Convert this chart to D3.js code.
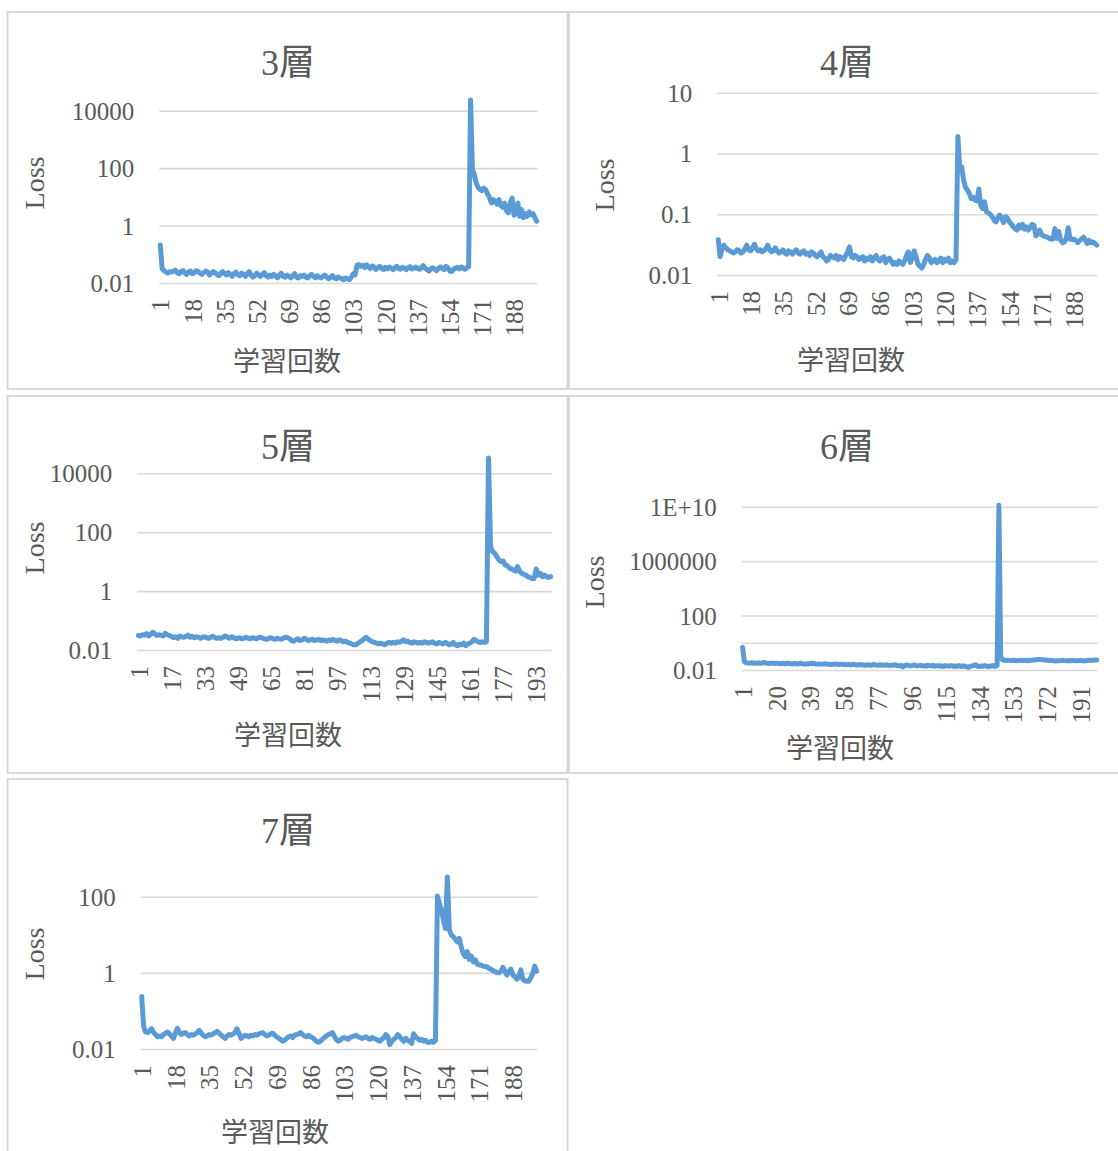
<!DOCTYPE html>
<html>
<head>
<meta charset="utf-8">
<script src="https://cdn.jsdelivr.net/npm/d3@7"></script>
<style>
  html, body { margin: 0; padding: 0; background: #fff; }
  svg { display: block; }
  text { font-family: "Liberation Serif", "Noto Sans CJK JP", serif; fill: #595959; }
</style>
</head>
<body>
<svg id="chart" width="1118" height="1151"></svg>
<script>
// ---- data -------------------------------------------------------------
const steps = d3.range(1, 201);            // 学習回数 1..200
const titles = ["3層", "4層", "5層", "6層", "7層"];
const xTitle = "学習回数";
const yTitle = "Loss";

const loss3 = [0.21, 0.032,
  0.027, 0.024, 0.022, 0.025, 0.024, 0.026, 0.028, 0.023, 0.021, 0.025, 0.027, 0.022, 0.020, 0.024, 0.026, 0.021, 0.023, 0.027,
  0.025, 0.022, 0.020, 0.023, 0.026, 0.024, 0.019, 0.022, 0.025, 0.023, 0.020, 0.018, 0.022, 0.025, 0.021, 0.019, 0.023, 0.020, 0.017, 0.021,
  0.024, 0.019, 0.018, 0.022, 0.020, 0.017, 0.021, 0.025, 0.019, 0.016, 0.018, 0.022, 0.019, 0.017, 0.020, 0.023, 0.018, 0.016, 0.019, 0.017,
  0.020, 0.018, 0.015, 0.019, 0.022, 0.017, 0.016, 0.019, 0.017, 0.015, 0.018, 0.021, 0.016, 0.015, 0.018, 0.017, 0.019, 0.016, 0.015, 0.018,
  0.020, 0.017, 0.015, 0.018, 0.016, 0.015, 0.017, 0.019, 0.016, 0.014, 0.016, 0.018, 0.015, 0.014, 0.016, 0.015, 0.014, 0.013, 0.015, 0.014,
  0.013, 0.016, 0.021, 0.019, 0.042, 0.044, 0.038, 0.041, 0.035, 0.043, 0.037, 0.032, 0.039, 0.036, 0.030, 0.034, 0.038, 0.033, 0.029, 0.035,
  0.031, 0.036, 0.033, 0.029, 0.034, 0.038, 0.032, 0.030, 0.035, 0.033, 0.029, 0.034, 0.037, 0.031, 0.033, 0.036, 0.032, 0.030, 0.034, 0.040,
  0.033, 0.029, 0.026, 0.031, 0.034, 0.030, 0.027, 0.032, 0.036, 0.033, 0.029, 0.038, 0.034, 0.026, 0.025, 0.030, 0.033, 0.035, 0.031, 0.036,
  0.033, 0.030, 0.034, 0.037,
  23800,
  89, 59, 30, 21.6, 17.8, 16.4, 20, 17.8, 12.6, 9.7, 6.1, 8, 7, 5.6, 8, 5.1, 4.3, 6.1, 3.3, 2.75,
  6, 9.1, 2.3, 2.6, 6, 2.1, 3.6, 1.9, 2.6, 2.1, 3.0, 2.4, 2.6, 1.9, 1.4];

const loss4 = [0.038, 0.020,
  0.027, 0.031, 0.028, 0.026, 0.025, 0.024, 0.023, 0.024, 0.026, 0.025, 0.023, 0.024, 0.027, 0.031, 0.026, 0.025, 0.028, 0.032,
  0.027, 0.025, 0.026, 0.024, 0.025, 0.027, 0.031, 0.026, 0.024, 0.025, 0.028, 0.025, 0.023, 0.024, 0.026, 0.023, 0.022, 0.025, 0.024, 0.022,
  0.024, 0.026, 0.023, 0.022, 0.024, 0.025, 0.022, 0.023, 0.021, 0.024, 0.023, 0.021, 0.020, 0.022, 0.024, 0.020, 0.019, 0.017, 0.018, 0.021,
  0.020, 0.019, 0.021, 0.018, 0.020, 0.019, 0.018, 0.021, 0.024, 0.029, 0.020, 0.019, 0.021, 0.020, 0.018, 0.019, 0.020, 0.017, 0.019, 0.018,
  0.020, 0.017, 0.019, 0.021, 0.018, 0.017, 0.019, 0.020, 0.016, 0.018, 0.019, 0.017, 0.015, 0.016, 0.015, 0.017, 0.016, 0.015, 0.017, 0.021,
  0.024, 0.016, 0.019, 0.025, 0.020, 0.015, 0.014, 0.013, 0.015, 0.018, 0.021, 0.019, 0.016, 0.017, 0.018, 0.016, 0.017, 0.019, 0.016, 0.018,
  0.017, 0.019, 0.016, 0.017, 0.016, 0.018,
  1.9,
  0.53, 0.6, 0.365, 0.277, 0.25, 0.22, 0.18, 0.19, 0.17, 0.165, 0.26, 0.14, 0.125, 0.16, 0.11, 0.105, 0.1, 0.091, 0.08, 0.075,
  0.087, 0.097, 0.087, 0.073, 0.091, 0.087, 0.075, 0.07, 0.0625, 0.058, 0.055, 0.066, 0.06, 0.068, 0.057, 0.062, 0.055, 0.06, 0.068, 0.066,
  0.044, 0.047, 0.055, 0.046, 0.044, 0.043, 0.042, 0.04, 0.039, 0.039, 0.058, 0.04, 0.052, 0.038, 0.034, 0.035, 0.04, 0.06, 0.039, 0.038,
  0.039, 0.037, 0.034, 0.037, 0.039, 0.042, 0.038, 0.033, 0.037, 0.034, 0.035, 0.033, 0.031];

const loss5 = [
  0.031, 0.030, 0.033, 0.032, 0.036, 0.030, 0.034, 0.040, 0.035, 0.031, 0.033, 0.032, 0.030, 0.037, 0.033, 0.031, 0.029, 0.026, 0.028, 0.025,
  0.030, 0.028, 0.027, 0.029, 0.032, 0.027, 0.029, 0.026, 0.028, 0.027, 0.025, 0.027, 0.028, 0.026, 0.025, 0.027, 0.029, 0.026, 0.025, 0.026,
  0.025, 0.027, 0.030, 0.027, 0.025, 0.028, 0.026, 0.024, 0.025, 0.026, 0.024, 0.025, 0.027, 0.025, 0.024, 0.026, 0.025, 0.024, 0.026, 0.027,
  0.025, 0.024, 0.023, 0.025, 0.026, 0.024, 0.023, 0.025, 0.024, 0.023, 0.025, 0.027, 0.026, 0.024, 0.021, 0.020, 0.022, 0.024, 0.021, 0.022,
  0.025, 0.023, 0.021, 0.022, 0.023, 0.021, 0.022, 0.023, 0.021, 0.022, 0.021, 0.020, 0.022, 0.021, 0.023, 0.021, 0.020, 0.022, 0.021, 0.019,
  0.020, 0.018, 0.017, 0.016, 0.015, 0.015, 0.017, 0.019, 0.021, 0.024, 0.027, 0.023, 0.021, 0.019, 0.018, 0.017, 0.016, 0.017, 0.016, 0.015,
  0.017, 0.018, 0.017, 0.018, 0.017, 0.019, 0.018, 0.020, 0.022, 0.019, 0.020, 0.018, 0.017, 0.019, 0.018, 0.017, 0.018, 0.017, 0.019, 0.018,
  0.017, 0.018, 0.019, 0.017, 0.016, 0.018, 0.017, 0.016, 0.018, 0.017, 0.015, 0.016, 0.018, 0.015, 0.014, 0.016, 0.015, 0.017, 0.014, 0.016,
  0.017, 0.019, 0.023, 0.021, 0.019, 0.018, 0.019, 0.018, 0.019,
  33000,
  32, 21.8, 19.2, 14.8, 11.4, 10, 10.5, 7.7, 7.3, 6.2, 5.6, 5.2, 4.8, 6.8, 4.8, 4, 3.7, 3.5, 3.1, 2.9,
  2.7, 2.7, 5.6, 3.5, 4, 3.1, 3.5, 3.1, 2.9, 3.1];

const loss6 = [0.46, 0.040,
  0.034, 0.033, 0.032, 0.034, 0.033, 0.031, 0.032, 0.033, 0.031, 0.034, 0.036, 0.033, 0.031, 0.030, 0.032, 0.031, 0.030, 0.032,
  0.031, 0.029, 0.030, 0.031, 0.029, 0.031, 0.032, 0.029, 0.028, 0.030, 0.029, 0.028, 0.030, 0.031, 0.028, 0.027, 0.029, 0.028, 0.030, 0.031,
  0.030, 0.028, 0.027, 0.028, 0.026, 0.027, 0.029, 0.027, 0.026, 0.027, 0.025, 0.026, 0.028, 0.026, 0.025, 0.027, 0.026, 0.025, 0.024, 0.026,
  0.025, 0.024, 0.026, 0.025, 0.023, 0.024, 0.025, 0.023, 0.024, 0.022, 0.024, 0.023, 0.022, 0.024, 0.025, 0.023, 0.022, 0.024, 0.023, 0.022,
  0.023, 0.024, 0.022, 0.021, 0.023, 0.022, 0.024, 0.021, 0.020, 0.022, 0.017, 0.021, 0.023, 0.022, 0.020, 0.021, 0.023, 0.022, 0.020, 0.021,
  0.022, 0.020, 0.021, 0.019, 0.022, 0.021, 0.020, 0.022, 0.019, 0.020, 0.021, 0.019, 0.020, 0.018, 0.021, 0.020, 0.019, 0.021, 0.020, 0.018,
  0.020, 0.019, 0.021, 0.018, 0.020, 0.019, 0.017, 0.016, 0.019, 0.020, 0.022, 0.024, 0.019, 0.018, 0.020, 0.019, 0.021, 0.019, 0.018, 0.020,
  0.019, 0.021, 0.018, 0.022,
  1.3e10,
  0.095, 0.058, 0.052, 0.050, 0.053, 0.051, 0.049, 0.052, 0.050, 0.048, 0.051, 0.053, 0.049, 0.050, 0.052, 0.048, 0.050, 0.051, 0.053, 0.055,
  0.057, 0.058, 0.060, 0.058, 0.056, 0.054, 0.052, 0.050, 0.049, 0.051, 0.048, 0.046, 0.049, 0.047, 0.050, 0.052, 0.049, 0.047, 0.050, 0.048,
  0.049, 0.051, 0.048, 0.047, 0.049, 0.050, 0.048, 0.046, 0.049, 0.051, 0.052, 0.050, 0.053, 0.055, 0.054];

const loss7 = [0.24, 0.038,
  0.028, 0.027, 0.030, 0.034, 0.027, 0.024, 0.021, 0.022, 0.021, 0.024, 0.026, 0.028, 0.025, 0.022, 0.019, 0.026, 0.035, 0.027,
  0.024, 0.026, 0.027, 0.024, 0.022, 0.024, 0.023, 0.025, 0.027, 0.031, 0.026, 0.023, 0.021, 0.022, 0.024, 0.023, 0.025, 0.027, 0.029, 0.026,
  0.023, 0.021, 0.019, 0.022, 0.024, 0.023, 0.025, 0.027, 0.034, 0.026, 0.019, 0.021, 0.023, 0.022, 0.021, 0.023, 0.022, 0.024, 0.023, 0.025,
  0.026, 0.027, 0.024, 0.022, 0.023, 0.025, 0.026, 0.023, 0.021, 0.019, 0.018, 0.016, 0.017, 0.019, 0.021, 0.022, 0.020, 0.023, 0.024, 0.025,
  0.027, 0.024, 0.022, 0.021, 0.023, 0.021, 0.020, 0.018, 0.016, 0.015, 0.016, 0.018, 0.020, 0.022, 0.024, 0.025, 0.027, 0.022, 0.018, 0.016,
  0.017, 0.019, 0.020, 0.019, 0.018, 0.020, 0.021, 0.022, 0.023, 0.021, 0.020, 0.019, 0.020, 0.021, 0.019, 0.018, 0.020, 0.019, 0.018, 0.017,
  0.016, 0.018, 0.020, 0.024, 0.021, 0.013, 0.016, 0.018, 0.020, 0.024, 0.021, 0.018, 0.016, 0.019, 0.017, 0.016, 0.014, 0.025, 0.021, 0.019,
  0.017, 0.018, 0.016, 0.017, 0.015, 0.015, 0.016, 0.015, 0.017,
  104,
  67, 44, 24, 14.7, 330, 13.3, 9.8, 8.9, 7.6, 6.5, 8, 4.7, 3.25, 2.66, 3.6, 2.26, 2.8, 1.95, 2.2, 1.7,
  1.6, 1.6, 1.5, 1.45, 1.45, 1.3, 1.25, 1.14, 1.1, 1.0, 1.0, 1.1, 1.4, 1.1, 0.87, 1.1, 1.25, 0.87, 0.8, 0.68,
  0.8, 1.2, 0.68, 0.62, 0.6, 0.6, 0.74, 0.95, 1.5, 1.1];

// value-axis gridlines and the ones that carry a label
const grid3 = [0.01, 1, 100, 10000];
const grid4 = [0.01, 0.1, 1, 10];
const grid5 = [0.01, 1, 100, 10000];
const grid6 = [0.01, 1, 100, 1e6, 1e10];
const grid7 = [0.01, 1, 100];
const labels3 = [0.01, 1, 100, 10000];
const labels4 = [0.01, 0.1, 1, 10];
const labels5 = [0.01, 1, 100, 10000];
const labels6 = [0.01, 100, 1e6, 1e10];
const labels7 = [0.01, 1, 100];
// spacing of the category labels on each x axis
const xLabelEvery = [17, 17, 16, 19, 17];

// ---- layout -----------------------------------------------------------
const series = [loss3, loss4, loss5, loss6, loss7];
const grids = [grid3, grid4, grid5, grid6, grid7];
const labelSets = [labels3, labels4, labels5, labels6, labels7];

const panels = [
  { box: [7.5, 12, 567.5, 389], plot: [159.3, 537.7, 110.7, 283], title: [288, 75], loss: [44, 183], xt: [287, 371] },
  { box: [569, 12, 1128, 389], plot: [717.3, 1097.7, 92.7, 275], title: [847, 75], loss: [614, 185], xt: [851, 370] },
  { box: [7.5, 396, 567.5, 773], plot: [137.3, 551.7, 473.3, 650], title: [288, 459], loss: [44, 548], xt: [288, 745] },
  { box: [569, 396, 1128, 773], plot: [741.7, 1097.7, 506.7, 670], title: [847, 459], loss: [604, 582], xt: [840, 758] },
  { box: [7.5, 779, 567.5, 1160], plot: [140.7, 537.7, 896.7, 1049], title: [288, 843], loss: [44, 954], xt: [275, 1142] }
];

const LINE_COLOR = "#5b9bd5";
const GRID_COLOR = "#d9d9d9";
const TEXT_COLOR = "#595959";

// 1e10 is written the spreadsheet way; everything else in plain decimals
function fmtTick(v) {
  return v >= 1e10 ? "1E+" + Math.round(Math.log10(v)) : String(v);
}

const svg = d3.select("#chart");

panels.forEach((p, k) => {
  const [x0, x1, yTop, yBot] = p.plot;
  const g = svg.append("g");

  // chart frame
  g.append("rect")
    .attr("x", p.box[0]).attr("y", p.box[1])
    .attr("width", p.box[2] - p.box[0]).attr("height", p.box[3] - p.box[1])
    .attr("fill", "#fff").attr("stroke", GRID_COLOR).attr("stroke-width", 2);

  const gv = grids[k];
  const y = d3.scaleLog().domain([gv[0], gv[gv.length - 1]]).range([yBot, yTop]);
  const x = d3.scalePoint().domain(steps).range([x0, x1]).padding(0.5);

  // horizontal gridlines
  const gridG = g.append("g").attr("transform", `translate(${x0},0)`)
    .call(d3.axisLeft(y).tickValues(gv).tickSize(-(x1 - x0)).tickFormat(""));
  gridG.select(".domain").remove();
  gridG.selectAll("line").attr("stroke", GRID_COLOR).attr("stroke-width", 1.6);

  // value labels
  const yAx = g.append("g").attr("transform", `translate(${x0},0)`)
    .call(d3.axisLeft(y).tickValues(labelSets[k]).tickFormat(fmtTick).tickSize(0).tickPadding(25));
  yAx.select(".domain").remove();
  yAx.attr("font-family", null).attr("font-size", null);
  yAx.selectAll("text").attr("font-size", 25).attr("fill", TEXT_COLOR).attr("dy", "0.34em");

  // category labels, rotated
  const every = xLabelEvery[k];
  const xAx = g.append("g").attr("transform", `translate(0,${yBot})`)
    .call(d3.axisBottom(x).tickValues(steps.filter(s => (s - 1) % every === 0)).tickSize(0).tickPadding(0));
  xAx.select(".domain").remove();
  xAx.attr("font-family", null).attr("font-size", null);
  xAx.selectAll("text")
    .attr("transform", "rotate(-90)")
    .attr("text-anchor", "end")
    .attr("x", -16).attr("y", 0).attr("dy", "0.35em")
    .attr("font-size", 25).attr("fill", TEXT_COLOR);

  // loss curve
  const pts = steps.map((s, i) => ({ s, v: series[k][i] }));
  g.append("path")
    .datum(pts)
    .attr("fill", "none")
    .attr("stroke", LINE_COLOR)
    .attr("stroke-width", 5)
    .attr("stroke-linejoin", "round")
    .attr("stroke-linecap", "round")
    .attr("d", d3.line().x(d => x(d.s)).y(d => y(d.v)));

  // titles
  g.append("text").attr("x", p.title[0]).attr("y", p.title[1])
    .attr("text-anchor", "middle").attr("font-size", 36).attr("fill", TEXT_COLOR)
    .text(titles[k]);
  g.append("text")
    .attr("transform", `translate(${p.loss[0]},${p.loss[1]}) rotate(-90)`)
    .attr("text-anchor", "middle").attr("font-size", 28).attr("fill", TEXT_COLOR)
    .text(yTitle);
  g.append("text").attr("x", p.xt[0]).attr("y", p.xt[1])
    .attr("text-anchor", "middle").attr("font-size", 27).attr("fill", TEXT_COLOR)
    .text(xTitle);
});
</script>
</body>
</html>
